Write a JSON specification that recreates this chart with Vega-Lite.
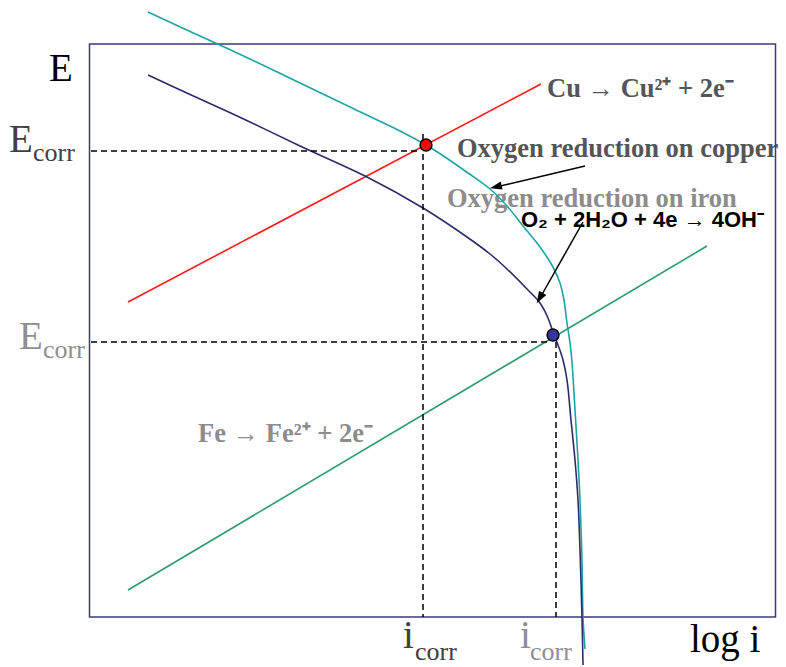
{
  "$schema": "https://vega.github.io/schema/vega-lite/v6.json",
  "width": 786,
  "height": 667,
  "autosize": "none",
  "padding": 0,
  "background": "white",
  "config": {"view": {"stroke": null}},
  "datasets": {
    "frame": [{"x": 89.5, "x2": 775.5, "E": 50, "E2": 623}],
    "curves": [
      {"series": "Cu anodic", "ord": 1, "x": 128, "E": 365},
      {"series": "Cu anodic", "ord": 2, "x": 541, "E": 583},
      {"series": "Fe anodic", "ord": 1, "x": 128, "E": 77},
      {"series": "Fe anodic", "ord": 2, "x": 707, "E": 421},
      {"series": "O2 on Cu", "ord": 1, "x": 148, "E": 655},
      {"series": "O2 on Cu", "ord": 2, "x": 200, "E": 631},
      {"series": "O2 on Cu", "ord": 3, "x": 250, "E": 608},
      {"series": "O2 on Cu", "ord": 4, "x": 300, "E": 584},
      {"series": "O2 on Cu", "ord": 5, "x": 350, "E": 560},
      {"series": "O2 on Cu", "ord": 6, "x": 400, "E": 536},
      {"series": "O2 on Cu", "ord": 7, "x": 426, "E": 522},
      {"series": "O2 on Cu", "ord": 8, "x": 445, "E": 510},
      {"series": "O2 on Cu", "ord": 9, "x": 468, "E": 494},
      {"series": "O2 on Cu", "ord": 10, "x": 490, "E": 478},
      {"series": "O2 on Cu", "ord": 11, "x": 507, "E": 461},
      {"series": "O2 on Cu", "ord": 12, "x": 523, "E": 441},
      {"series": "O2 on Cu", "ord": 13, "x": 540, "E": 420},
      {"series": "O2 on Cu", "ord": 14, "x": 553, "E": 400},
      {"series": "O2 on Cu", "ord": 15, "x": 560, "E": 384},
      {"series": "O2 on Cu", "ord": 16, "x": 564, "E": 367},
      {"series": "O2 on Cu", "ord": 17, "x": 567, "E": 344},
      {"series": "O2 on Cu", "ord": 18, "x": 570, "E": 324},
      {"series": "O2 on Cu", "ord": 19, "x": 572, "E": 305},
      {"series": "O2 on Cu", "ord": 20, "x": 575, "E": 257},
      {"series": "O2 on Cu", "ord": 21, "x": 578, "E": 207},
      {"series": "O2 on Cu", "ord": 22, "x": 580, "E": 167},
      {"series": "O2 on Cu", "ord": 23, "x": 582, "E": 107},
      {"series": "O2 on Cu", "ord": 24, "x": 583, "E": 50},
      {"series": "O2 on Cu", "ord": 25, "x": 585, "E": 18},
      {"series": "O2 on Fe", "ord": 1, "x": 148, "E": 592},
      {"series": "O2 on Fe", "ord": 2, "x": 200, "E": 568},
      {"series": "O2 on Fe", "ord": 3, "x": 250, "E": 545},
      {"series": "O2 on Fe", "ord": 4, "x": 300, "E": 521},
      {"series": "O2 on Fe", "ord": 5, "x": 367, "E": 490},
      {"series": "O2 on Fe", "ord": 6, "x": 423, "E": 459},
      {"series": "O2 on Fe", "ord": 7, "x": 467, "E": 430},
      {"series": "O2 on Fe", "ord": 8, "x": 490, "E": 413},
      {"series": "O2 on Fe", "ord": 9, "x": 507, "E": 398},
      {"series": "O2 on Fe", "ord": 10, "x": 527, "E": 378},
      {"series": "O2 on Fe", "ord": 11, "x": 540, "E": 364},
      {"series": "O2 on Fe", "ord": 12, "x": 548, "E": 349},
      {"series": "O2 on Fe", "ord": 13, "x": 553, "E": 335},
      {"series": "O2 on Fe", "ord": 14, "x": 558, "E": 322},
      {"series": "O2 on Fe", "ord": 15, "x": 563, "E": 307},
      {"series": "O2 on Fe", "ord": 16, "x": 567, "E": 287},
      {"series": "O2 on Fe", "ord": 17, "x": 571, "E": 247},
      {"series": "O2 on Fe", "ord": 18, "x": 575, "E": 207},
      {"series": "O2 on Fe", "ord": 19, "x": 578, "E": 167},
      {"series": "O2 on Fe", "ord": 20, "x": 580, "E": 117},
      {"series": "O2 on Fe", "ord": 21, "x": 582, "E": 50},
      {"series": "O2 on Fe", "ord": 22, "x": 583, "E": 2}
    ],
    "guides": [
      {"g": "h1", "ord": 1, "x": 91, "E": 516},
      {"g": "h1", "ord": 2, "x": 421, "E": 516},
      {"g": "v1", "ord": 1, "x": 423, "E": 533},
      {"g": "v1", "ord": 2, "x": 423, "E": 50},
      {"g": "h2", "ord": 1, "x": 91, "E": 325},
      {"g": "h2", "ord": 2, "x": 548, "E": 325},
      {"g": "v2", "ord": 1, "x": 556, "E": 325},
      {"g": "v2", "ord": 2, "x": 556, "E": 50}
    ],
    "arrows": [
      {"a": "copper", "ord": 1, "x": 585, "E": 501},
      {"a": "copper", "ord": 2, "x": 496, "E": 480},
      {"a": "iron", "ord": 1, "x": 583, "E": 445},
      {"a": "iron", "ord": 2, "x": 540, "E": 369}
    ],
    "heads": [
      {"a": "copper", "x": 495.8, "E": 480.1},
      {"a": "iron", "x": 539.7, "E": 368.9}
    ],
    "dots": [
      {"metal": "Cu", "x": 426, "E": 522},
      {"metal": "Fe", "x": 553, "E": 332}
    ],
    "labels": [
      {"g": "bigBlack", "t": "E", "x": 49, "E": 586},
      {"g": "bigBlack", "t": "log i", "x": 690, "E": 15},
      {"g": "bigDark", "t": "E", "x": 9, "E": 515},
      {"g": "bigDark", "t": "i", "x": 403, "E": 19},
      {"g": "bigLight", "t": "E", "x": 19, "E": 318},
      {"g": "bigLight", "t": "i", "x": 520, "E": 19},
      {"g": "subDark", "t": "corr", "x": 33, "E": 506},
      {"g": "subDark", "t": "corr", "x": 415, "E": 7},
      {"g": "subLight", "t": "corr", "x": 43, "E": 309},
      {"g": "subLight", "t": "corr", "x": 530, "E": 7},
      {"g": "boldDark", "t": "Cu → Cu²⁺ + 2e⁻", "x": 547, "E": 570},
      {"g": "boldDark", "t": "Oxygen reduction on copper", "x": 457, "E": 510},
      {"g": "boldLight", "t": "Oxygen reduction on iron", "x": 447, "E": 460},
      {"g": "boldLight", "t": "Fe → Fe²⁺ + 2e⁻", "x": 198, "E": 225},
      {"g": "eq", "t": "O₂ + 2H₂O + 4e → 4OH⁻", "x": 521, "E": 440}
    ]
  },
  "encoding": {
    "x": {"field": "x", "type": "quantitative", "scale": {"domain": [0, 786], "nice": false, "zero": false}, "axis": null},
    "y": {"field": "E", "type": "quantitative", "scale": {"domain": [0, 667], "nice": false, "zero": false}, "axis": null}
  },
  "layer": [
    {
      "data": {"name": "labels"},
      "transform": [{"filter": "datum.g === 'bigBlack'"}],
      "mark": {"type": "text", "align": "left", "baseline": "alphabetic", "font": "Liberation Serif", "fontSize": 39, "fill": "#000000"},
      "encoding": {"text": {"field": "t"}}
    },
    {
      "data": {"name": "labels"},
      "transform": [{"filter": "datum.g === 'bigDark'"}],
      "mark": {"type": "text", "align": "left", "baseline": "alphabetic", "font": "Liberation Serif", "fontSize": 39, "fill": "#404040"},
      "encoding": {"text": {"field": "t"}}
    },
    {
      "data": {"name": "labels"},
      "transform": [{"filter": "datum.g === 'bigLight'"}],
      "mark": {"type": "text", "align": "left", "baseline": "alphabetic", "font": "Liberation Serif", "fontSize": 39, "fill": "#8f8f8f"},
      "encoding": {"text": {"field": "t"}}
    },
    {
      "data": {"name": "labels"},
      "transform": [{"filter": "datum.g === 'subDark'"}],
      "mark": {"type": "text", "align": "left", "baseline": "alphabetic", "font": "Liberation Serif", "fontSize": 26, "fill": "#404040"},
      "encoding": {"text": {"field": "t"}}
    },
    {
      "data": {"name": "labels"},
      "transform": [{"filter": "datum.g === 'subLight'"}],
      "mark": {"type": "text", "align": "left", "baseline": "alphabetic", "font": "Liberation Serif", "fontSize": 26, "fill": "#8f8f8f"},
      "encoding": {"text": {"field": "t"}}
    },
    {
      "data": {"name": "labels"},
      "transform": [{"filter": "datum.g === 'boldDark'"}],
      "mark": {"type": "text", "align": "left", "baseline": "alphabetic", "font": "Liberation Serif", "fontWeight": "bold", "fontSize": 26.5, "fill": "#555555"},
      "encoding": {"text": {"field": "t"}}
    },
    {
      "data": {"name": "labels"},
      "transform": [{"filter": "datum.g === 'boldLight'"}],
      "mark": {"type": "text", "align": "left", "baseline": "alphabetic", "font": "Liberation Serif", "fontWeight": "bold", "fontSize": 26.5, "fill": "#8c8c8c"},
      "encoding": {"text": {"field": "t"}}
    },
    {
      "data": {"name": "labels"},
      "transform": [{"filter": "datum.g === 'eq'"}],
      "mark": {"type": "text", "align": "left", "baseline": "alphabetic", "font": "Liberation Sans", "fontWeight": "bold", "fontSize": 22, "fill": "#000000"},
      "encoding": {"text": {"field": "t"}}
    },
    {
      "data": {"name": "frame"},
      "mark": {"type": "rect", "filled": false, "stroke": "#3c3a7a", "strokeWidth": 1.5},
      "encoding": {"x2": {"field": "x2"}, "y2": {"field": "E2"}}
    },
    {
      "data": {"name": "curves"},
      "mark": {"type": "line", "interpolate": "catmull-rom", "strokeWidth": 1.6},
      "encoding": {
        "detail": {"field": "series"},
        "order": {"field": "ord", "type": "quantitative"},
        "color": {"field": "series", "type": "nominal", "legend": null,
          "scale": {"domain": ["Cu anodic", "Fe anodic", "O2 on Cu", "O2 on Fe"], "range": ["#ff1a1a", "#2e9c6c", "#1aa5a3", "#2d2a6a"]}}
      }
    },
    {
      "data": {"name": "guides"},
      "mark": {"type": "line", "stroke": "#000000", "strokeWidth": 1.5, "strokeDash": [6, 4]},
      "encoding": {"detail": {"field": "g"}, "order": {"field": "ord", "type": "quantitative"}}
    },
    {
      "data": {"name": "arrows"},
      "mark": {"type": "line", "stroke": "#000000", "strokeWidth": 1.5},
      "encoding": {"detail": {"field": "a"}, "order": {"field": "ord", "type": "quantitative"}}
    },
    {
      "data": {"name": "heads"},
      "transform": [{"filter": "datum.a === 'copper'"}],
      "mark": {"type": "point", "shape": "M0,-1L0.7,1L-0.7,1Z", "filled": true, "fill": "#000000", "stroke": null, "size": 144, "angle": 256.8, "opacity": 1}
    },
    {
      "data": {"name": "heads"},
      "transform": [{"filter": "datum.a === 'iron'"}],
      "mark": {"type": "point", "shape": "M0,-1L0.7,1L-0.7,1Z", "filled": true, "fill": "#000000", "stroke": null, "size": 144, "angle": 209.7, "opacity": 1}
    },
    {
      "data": {"name": "dots"},
      "transform": [{"filter": "datum.metal === 'Cu'"}],
      "mark": {"type": "circle", "fill": "#ff0000", "stroke": "#000000", "strokeWidth": 1.5, "size": 140, "opacity": 1}
    },
    {
      "data": {"name": "dots"},
      "transform": [{"filter": "datum.metal === 'Fe'"}],
      "mark": {"type": "circle", "fill": "#3535a0", "stroke": "#000000", "strokeWidth": 1.5, "size": 140, "opacity": 1}
    }
  ]
}
